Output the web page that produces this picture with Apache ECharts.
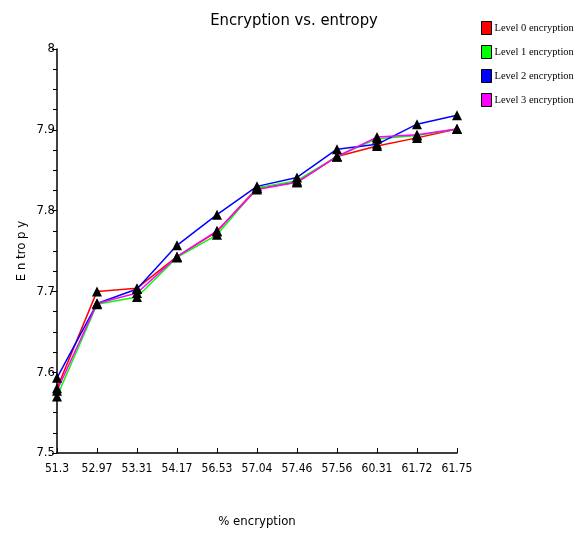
<!DOCTYPE html>
<html><head><meta charset="utf-8">
<script src="https://cdn.jsdelivr.net/npm/echarts@6/dist/echarts.min.js"></script>
<style>html,body{margin:0;padding:0;background:#fff}#c{width:577px;height:533px}</style>
</head><body><div id="c"></div>
<script>
var categories = ['51.3','52.97','53.31','54.17','56.53','57.04','57.46','57.56','60.31','61.72','61.75'];
var level0 = [7.580, 7.700, 7.704, 7.743, 7.774, 7.828, 7.835, 7.867, 7.880, 7.890, 7.901];
var level1 = [7.570, 7.684, 7.693, 7.742, 7.770, 7.828, 7.837, 7.867, 7.889, 7.893, 7.901];
var level2 = [7.593, 7.685, 7.703, 7.757, 7.795, 7.830, 7.841, 7.876, 7.882, 7.907, 7.918];
var level3 = [7.577, 7.685, 7.698, 7.743, 7.775, 7.826, 7.835, 7.867, 7.891, 7.894, 7.901];
var seriesNames = ['Level 0 encryption','Level 1 encryption','Level 2 encryption','Level 3 encryption'];
var seriesColors = ['#ff0000','#00ff00','#0000ff','#ff00ff'];
var seriesData = [level0, level1, level2, level3];

var narrow = '"DejaVu Sans Condensed","Liberation Sans",sans-serif';
var chart = echarts.init(document.getElementById('c'));
chart.setOption({
  animation: false,
  title: {text: 'Encryption vs. entropy', left: 289, top: 7, textAlign: 'center',
    textStyle: {fontFamily: narrow, fontSize: 16.5, fontWeight: 'normal', color: '#000'}},
  legend: {
    orient: 'vertical', left: 481, top: 21, padding: 0, itemGap: 10, itemWidth: 10, itemHeight: 13,
    icon: 'rect',
    textStyle: {fontFamily: '"Liberation Serif",serif', fontSize: 10.5, color: '#000', padding: [0,0,0,-2]},
    data: seriesNames.map(function(n, i){ return {name: n, itemStyle: {color: seriesColors[i], borderColor: '#000', borderWidth: 1}}; })
  },
  grid: {left: 57, right: 120, top: 49, bottom: 80},
  xAxis: {
    type: 'category', data: categories, boundaryGap: false,
    name: '% encryption', nameLocation: 'middle', nameGap: 62,
    nameTextStyle: {fontFamily: narrow, fontSize: 13, color: '#000'},
    axisLine: {lineStyle: {color: '#000', width: 1.5}},
    axisTick: {inside: true, length: 5, interval: 0, lineStyle: {color: '#000'}},
    axisLabel: {fontFamily: narrow, fontSize: 12, color: '#000', margin: 10, interval: 0},
    splitLine: {show: false}
  },
  yAxis: {
    type: 'value', min: 7.5, max: 8, interval: 0.1,
    name: 'E n tro p y', nameLocation: 'middle', nameGap: 29, nameMoveOverlap: false,
    nameTextStyle: {fontFamily: narrow, fontSize: 13, color: '#000'},
    axisLine: {show: true, lineStyle: {color: '#000', width: 1.5}},
    axisTick: {show: true, length: 5, lineStyle: {color: '#000'}},
    minorTick: {show: true, splitNumber: 4, length: 4, lineStyle: {color: '#000'}},
    axisLabel: {fontFamily: narrow, fontSize: 13, color: '#000', margin: 2,
      formatter: function(v){ return String(Math.round(v*10)/10); }},
    splitLine: {show: false}
  },
  series: seriesData.map(function(d, i){
    return {
      name: seriesNames[i], type: 'line', data: d,
      symbol: 'triangle', symbolSize: 10,
      itemStyle: {color: '#000'},
      lineStyle: {color: seriesColors[i], width: 1.5},
      z: 2
    };
  })
});
</script></body></html>
